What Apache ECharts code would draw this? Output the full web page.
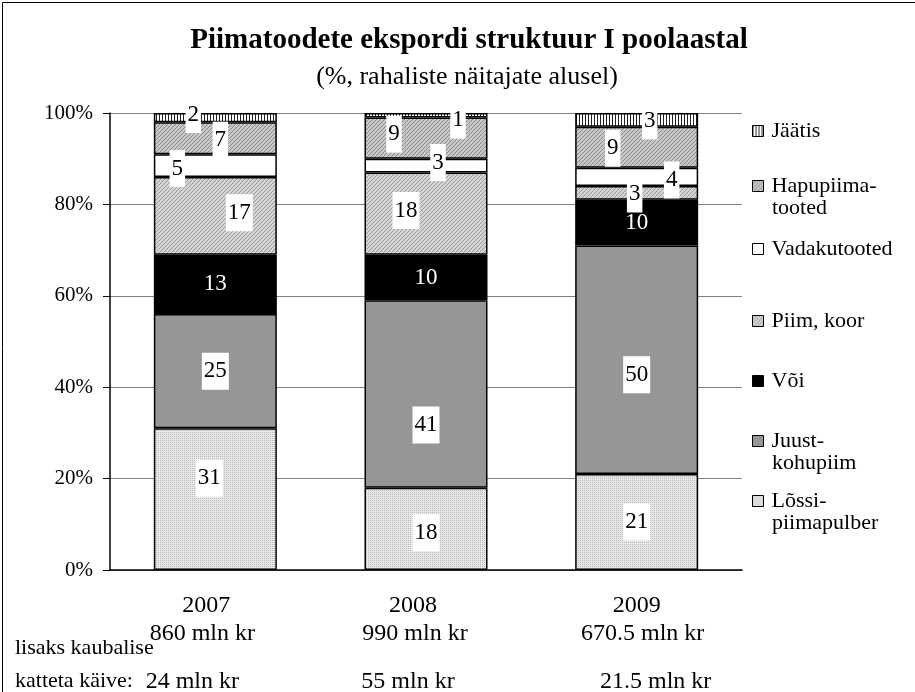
<!DOCTYPE html>
<html>
<head>
<meta charset="utf-8">
<script src="https://cdn.jsdelivr.net/npm/echarts@6/dist/echarts.min.js"></script>
<style>
  html, body { margin: 0; padding: 0; background: #fff; }
  #chart { width: 915px; height: 692px; }
</style>
</head>
<body>
<div id="chart"></div>
<script>
// andmed
var years = ['2007', '2008', '2009'];
var totals = ['860 mln kr', '990 mln kr', '670.5 mln kr'];
var extra = ['24 mln kr', '55 mln kr', '21.5 mln kr'];
var yTicks = [0, 20, 40, 60, 80, 100];

var lossi = [31, 18, 21];
var juust = [25, 41, 50];
var voi = [13, 10, 10];
var piim = [17, 18, 3];
var vadak = [5, 3, 4];
var hapu = [7, 9, 9];
var jaatis = [2, 1, 3];

var FONT = '"Liberation Serif", "Times New Roman", serif';

// mustrid (canvas pattern)
function pattern(size, bg, draw) {
  var c = document.createElement('canvas');
  c.width = size; c.height = size;
  var ctx = c.getContext('2d');
  ctx.fillStyle = bg;
  ctx.fillRect(0, 0, size, size);
  if (draw) draw(ctx, size);
  return { image: c, repeat: 'repeat' };
}
function diag(col) {
  return function (ctx, s) {
    ctx.fillStyle = col;
    for (var i = 0; i < s; i++) ctx.fillRect(i, s - 1 - i, 1, 1);
  };
}

var fills = {
  lossi: pattern(2, '#e8e8e8', function (ctx) { ctx.fillStyle = '#b8b8b8'; ctx.fillRect(0, 0, 1, 1); }),
  juust: '#969696',
  voi: '#000000',
  piim: pattern(4, '#d4d4d4', diag('#9a9a9a')),
  vadak: '#ffffff',
  hapu: pattern(4, '#c8c8c8', diag('#8a8a8a')),
  jaatis: pattern(3, '#ffffff', function (ctx) { ctx.fillStyle = '#222'; ctx.fillRect(0, 0, 1, 3); })
};

// siltide nihked (käsitsi paigutatud nagu originaalis)
var offsets = {
  lossi: [[-6, -21], [0, 4], [0, 0]],
  juust: [[0, 0], [0, 31], [0, 15]],
  voi: [[0, 0], [0, 0], [0, 0]],
  piim: [[24, -3], [-20, -3], [-2, 1]],
  vadak: [[-38, 3], [12, -3], [35, 3]],
  hapu: [[5, 2], [-32, -4], [-24, 1]],
  jaatis: [[-22, -3], [32, 5], [13, 1]]
};

var defs = [
  { key: 'lossi', name: 'Lõssi-', line2: 'piimapulber', data: lossi, top: 500 },
  { key: 'juust', name: 'Juust-', line2: 'kohupiim', data: juust, top: 440 },
  { key: 'voi', name: 'Või', data: voi, top: 380 },
  { key: 'piim', name: 'Piim, koor', data: piim, top: 320 },
  { key: 'vadak', name: 'Vadakutooted', data: vadak, top: 248 },
  { key: 'hapu', name: 'Hapupiima-', line2: 'tooted', data: hapu, top: 185 },
  { key: 'jaatis', name: 'Jäätis', data: jaatis, top: 130 }
];

var series = defs.map(function (d) {
  var dark = d.key === 'voi';
  return {
    name: d.name,
    type: 'bar',
    stack: 'kokku',
    barWidth: 123,
    itemStyle: { color: fills[d.key], borderColor: '#000', borderWidth: 1.5 },
    label: {
      show: true,
      position: 'inside',
      fontFamily: FONT,
      fontSize: 23,
      color: dark ? '#fff' : '#000',
      backgroundColor: dark ? 'transparent' : '#fff',
      padding: [8, 2, 6, 2]
    },
    emphasis: { disabled: true },
    data: d.data.map(function (v, i) {
      return { value: v, label: { offset: offsets[d.key][i] } };
    })
  };
});

var legends = defs.map(function (d) {
  return {
    data: [d.name],
    left: 752,
    top: d.top - 10,
    padding: 0,
    orient: 'vertical',
    icon: 'rect',
    itemWidth: 11,
    itemHeight: 11,
    itemGap: 0,
    selectedMode: false,
    itemStyle: { borderColor: '#000', borderWidth: 1 },
    textStyle: { fontFamily: FONT, fontSize: 22, color: '#000', padding: [0, 0, 0, 3] }
  };
});

var graphics = [
  { type: 'rect', left: 0, top: 0, shape: { x: 0.5, y: 0.5, width: 913, height: 690 },
    style: { fill: 'none', stroke: '#000', lineWidth: 1 }, silent: true },
  { type: 'text', left: 15, top: 637, style: { text: 'lisaks kaubalise', font: '22px ' + FONT, fill: '#000' } },
  { type: 'text', left: 15, top: 670, style: { text: 'katteta käive:', font: '22px ' + FONT, fill: '#000' } }
];
defs.forEach(function (d) {
  if (d.line2) {
    graphics.push({ type: 'text', left: 772, top: d.top + 12,
      style: { text: d.line2, font: '22px ' + FONT, fill: '#000' } });
  }
});

var xl = { fontFamily: FONT, fontSize: 24, lineHeight: 28, color: '#000' };
function rs(pad) { return Object.assign({}, xl, { padding: pad }); }

var chart = echarts.init(document.getElementById('chart'));
chart.setOption({
  animation: false,
  backgroundColor: '#fff',
  title: [
    { text: 'Piimatoodete ekspordi struktuur I poolaastal', left: 464, top: 21, textAlign: 'center',
      textStyle: { fontFamily: FONT, fontSize: 29, fontWeight: 'bold', color: '#000' } },
    { text: '(%, rahaliste näitajate alusel)', left: 462, top: 59, textAlign: 'center',
      textStyle: { fontFamily: FONT, fontSize: 26, fontWeight: 'normal', color: '#000' } }
  ],
  legend: legends,
  grid: { left: 110, right: 173, top: 113, bottom: 122, outerBoundsMode: 'none' },
  xAxis: {
    type: 'category',
    data: years,
    axisLine: { lineStyle: { color: '#000', width: 1.5 } },
    axisTick: { show: false },
    axisLabel: {
      margin: 22,
      interval: 0,
      formatter: function (v, i) {
        return '{y' + i + '|' + v + '}\n{t' + i + '|' + totals[i] + '}\n{e' + i + '|' + extra[i] + '}';
      },
      rich: {
        y0: rs([0, 18, 0, 0]),
        y1: rs([0, 26, 0, 0]),
        y2: rs([0, 0, 0, 0]),
        t0: rs([0, 26, 0, 0]),
        t1: rs([0, 22, 0, 0]),
        t2: rs([0, 0, 0, 12]),
        e0: rs([40, 46, 0, 0]),
        e1: rs([40, 36, 0, 0]),
        e2: rs([40, 0, 0, 38])
      }
    }
  },
  yAxis: {
    type: 'value',
    min: yTicks[0],
    max: yTicks[yTicks.length - 1],
    interval: yTicks[1] - yTicks[0],
    axisLine: { show: true, lineStyle: { color: '#000', width: 1.5 } },
    axisTick: { show: true, length: 7, lineStyle: { color: '#000' } },
    axisLabel: { formatter: '{value}%', margin: 17, fontFamily: FONT, fontSize: 21, color: '#000' },
    splitLine: { show: true, lineStyle: { color: '#808080', width: 1 } }
  },
  graphic: graphics,
  series: series
});
</script>
</body>
</html>
